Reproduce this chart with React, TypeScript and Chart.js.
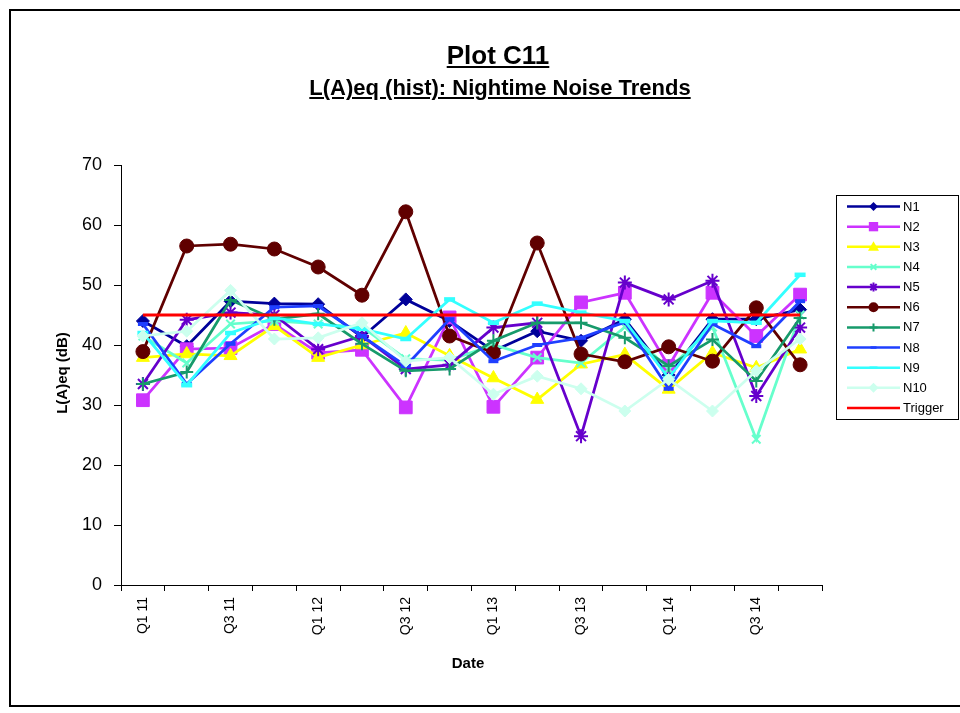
import React, { useEffect, useRef } from 'react';
import { Chart, registerables } from 'chart.js';

Chart.register(...registerables);

const categories = ['Q1 11', 'Q2 11', 'Q3 11', 'Q4 11', 'Q1 12', 'Q2 12', 'Q3 12', 'Q4 12', 'Q1 13', 'Q2 13', 'Q3 13', 'Q4 13', 'Q1 14', 'Q2 14', 'Q3 14', 'Q4 14'];

const n1 = [44, 39.8, 47.3, 46.9, 46.8, 41.3, 47.6, 44, 39, 42.3, 40.7, 44.3, 35, 44.3, 44.3, 45.9];
const n2 = [30.8, 39.3, 39.5, 43.5, 38.7, 39.2, 29.6, 44.6, 29.7, 37.9, 47.1, 48.7, 36.5, 48.7, 41.5, 48.4];
const n3 = [37.9, 38.5, 38.2, 43.2, 37.9, 40, 42, 38.2, 34.5, 30.9, 36.8, 38.4, 32.6, 38.7, 36.2, 39.3];
const n4 = [41.5, 37, 43.5, 44, 43.5, 43, 37.7, 37.5, 40, 37.9, 37, 43, 36, 43, 24.3, 45];
const n5 = [33.5, 44.2, 45.4, 45, 39.3, 41.5, 36, 36.7, 42.9, 43.7, 24.8, 50.4, 47.6, 50.7, 31.5, 42.9];
const n6 = [38.9, 56.5, 56.8, 56, 53, 48.3, 62.2, 41.5, 38.7, 57, 38.5, 37.2, 39.7, 37.3, 46.2, 36.7];
const n7 = [33.5, 35.5, 47.5, 44.3, 45.2, 40.2, 35.7, 36, 40.7, 43.7, 43.7, 41.2, 36.5, 40.9, 34, 44.5];
const n8 = [43.5, 33.5, 40.2, 46.3, 46.5, 41.5, 36.5, 44.3, 37.3, 40, 41.2, 43.8, 32.7, 43.5, 39.8, 47.3];
const n9 = [42, 33.3, 42, 44.5, 43.5, 42.7, 41, 47.6, 43.7, 46.9, 45.4, 44, 34.5, 44, 43.7, 51.7];
const n10 = [41.5, 42.3, 49.1, 41, 41.2, 43.7, 37.3, 37.9, 31.8, 34.8, 32.7, 29, 34.3, 29, 35.7, 41];
const triggerLevel = 45;
const trigger = categories.map(() => triggerLevel);

const yMin = 0;
const yMax = 70;
const yStep = 10;

type Series = {
  label: string;
  data: number[];
  color: string;
  style: string | false;
  r: number;
  bw: number;
  lr: number;
};

const series: Series[] = [
  { label: 'N1', data: n1, color: '#000099', style: 'rectRot', r: 6.5, bw: 1, lr: 4.5 },
  { label: 'N2', data: n2, color: '#CC33FF', style: 'rect', r: 9, bw: 1, lr: 6 },
  { label: 'N3', data: n3, color: '#FFFF00', style: 'triangle', r: 7.5, bw: 1, lr: 5.5 },
  { label: 'N4', data: n4, color: '#66FFCC', style: 'crossRot', r: 6, bw: 2, lr: 4 },
  { label: 'N5', data: n5, color: '#6600CC', style: 'star', r: 7, bw: 2, lr: 4.5 },
  { label: 'N6', data: n6, color: '#600000', style: 'circle', r: 7, bw: 1, lr: 5 },
  { label: 'N7', data: n7, color: '#179A6B', style: 'cross', r: 6.5, bw: 2, lr: 4 },
  { label: 'N8', data: n8, color: '#1F3FFF', style: 'line', r: 5, bw: 4, lr: 3 },
  { label: 'N9', data: n9, color: '#33FFFF', style: 'line', r: 5.5, bw: 4.5, lr: 4 },
  { label: 'N10', data: n10, color: '#CCFFEE', style: 'rectRot', r: 6, bw: 1, lr: 5 },
  { label: 'Trigger', data: trigger, color: '#FF0000', style: false, r: 0, bw: 0, lr: 0 },
];

function drawMarker(ctx: CanvasRenderingContext2D, style: string, x: number, y: number, r: number, color: string, bw: number) {
  ctx.save();
  ctx.fillStyle = color;
  ctx.strokeStyle = color;
  ctx.lineWidth = bw;
  ctx.beginPath();
  switch (style) {
    case 'circle':
      ctx.arc(x, y, r, 0, Math.PI * 2);
      ctx.fill();
      break;
    case 'rect': {
      const s = r * Math.SQRT1_2 * 1.1;
      ctx.rect(x - s, y - s, 2 * s, 2 * s);
      ctx.fill();
      break;
    }
    case 'rectRot':
      ctx.moveTo(x - r, y);
      ctx.lineTo(x, y - r);
      ctx.lineTo(x + r, y);
      ctx.lineTo(x, y + r);
      ctx.closePath();
      ctx.fill();
      break;
    case 'triangle':
      ctx.moveTo(x, y - r);
      ctx.lineTo(x + r, y + r * 0.7);
      ctx.lineTo(x - r, y + r * 0.7);
      ctx.closePath();
      ctx.fill();
      break;
    case 'cross':
      ctx.moveTo(x - r, y); ctx.lineTo(x + r, y);
      ctx.moveTo(x, y - r); ctx.lineTo(x, y + r);
      ctx.stroke();
      break;
    case 'crossRot': {
      const d = r * Math.SQRT1_2;
      ctx.moveTo(x - d, y - d); ctx.lineTo(x + d, y + d);
      ctx.moveTo(x + d, y - d); ctx.lineTo(x - d, y + d);
      ctx.stroke();
      break;
    }
    case 'star': {
      const d = r * Math.SQRT1_2;
      ctx.moveTo(x - r, y); ctx.lineTo(x + r, y);
      ctx.moveTo(x, y - r); ctx.lineTo(x, y + r);
      ctx.moveTo(x - d, y - d); ctx.lineTo(x + d, y + d);
      ctx.moveTo(x + d, y - d); ctx.lineTo(x - d, y + d);
      ctx.stroke();
      break;
    }
    case 'line':
      ctx.moveTo(x - r, y); ctx.lineTo(x + r, y);
      ctx.stroke();
      break;
  }
  ctx.restore();
}

const legendPlugin = {
  id: 'customLegend',
  afterDraw(chart: any) {
    const ctx: CanvasRenderingContext2D = chart.ctx;
    ctx.save();
    ctx.fillStyle = '#ffffff';
    ctx.fillRect(836.5, 195.5, 122, 224);
    ctx.strokeStyle = '#000';
    ctx.lineWidth = 1;
    ctx.strokeRect(836.5, 195.5, 122, 224);
    series.forEach((s, i) => {
      const y = 206.5 + i * 20.15;
      ctx.strokeStyle = s.color;
      ctx.lineWidth = 2.5;
      ctx.beginPath();
      ctx.moveTo(847, y);
      ctx.lineTo(900, y);
      ctx.stroke();
      if (s.style) drawMarker(ctx, s.style, 873.5, y, s.lr, s.color, Math.min(s.bw, 2.5));
      ctx.fillStyle = '#000';
      ctx.font = '13px "Liberation Sans", Arial, sans-serif';
      ctx.textBaseline = 'middle';
      ctx.textAlign = 'left';
      ctx.fillText(s.label, 903, y + 0.5);
    });
    ctx.restore();
  },
};

export default function App() {
  const canvasRef = useRef<HTMLCanvasElement | null>(null);

  useEffect(() => {
    if (!canvasRef.current) return;
    const n = series.length;
    const chart = new Chart(canvasRef.current, {
      type: 'line',
      data: {
        labels: categories,
        datasets: series.map((s, i) => ({
          label: s.label,
          data: s.data,
          borderColor: s.color,
          backgroundColor: s.color,
          borderWidth: s.style ? 2.75 : 3,
          pointStyle: s.style || false,
          pointRadius: s.style ? s.r : 0,
          pointHoverRadius: s.style ? s.r : 0,
          pointBorderWidth: s.bw,
          pointBackgroundColor: s.color,
          pointBorderColor: s.color,
          fill: false,
          tension: 0,
          order: n - i,
        })),
      },
      options: {
        responsive: false,
        animation: false,
        devicePixelRatio: 1,
        layout: { padding: { left: 0, top: 165, right: 138, bottom: 0 } },
        plugins: {
          legend: { display: false },
          title: { display: false },
          tooltip: { enabled: false },
        },
        scales: {
          x: {
            type: 'category',
            offset: true,
            grid: { offset: true, drawOnChartArea: false, drawTicks: true, tickLength: 6, color: '#000', tickColor: '#000' },
            border: { display: true, color: '#000', width: 1 },
            ticks: {
              autoSkip: false,
              minRotation: 90,
              maxRotation: 90,
              padding: 6,
              color: '#000',
              font: { family: '"Liberation Sans", Arial, sans-serif', size: 14 },
              callback: (_v: any, idx: number) => (idx % 2 === 0 ? categories[idx] : ''),
            },
            afterFit: (scale: any) => { scale.height = 128; },
          },
          y: {
            min: yMin,
            max: yMax,
            grid: { drawOnChartArea: false, drawTicks: true, tickLength: 7, color: '#000', tickColor: '#000' },
            border: { display: true, color: '#000', width: 1 },
            ticks: {
              stepSize: yStep,
              padding: 12,
              color: '#000',
              font: { family: '"Liberation Sans", Arial, sans-serif', size: 18 },
            },
            afterFit: (scale: any) => { scale.width = 121; },
          },
        },
      },
      plugins: [legendPlugin],
    } as any);
    return () => chart.destroy();
  }, []);

  const font = '"Liberation Sans", Arial, Helvetica, sans-serif';

  return (
    <div style={{ position: 'fixed', left: 0, top: 0, width: 960, height: 713, background: '#fff', overflow: 'hidden' }}>
      <div style={{ position: 'absolute', left: 9, top: 9, width: 960, height: 698, border: '2px solid #000', boxSizing: 'border-box' }} />
      <canvas ref={canvasRef} width={960} height={713} style={{ position: 'absolute', left: 0, top: 0 }} />
      <div style={{ position: 'absolute', left: 0, width: 996, top: 40, textAlign: 'center', fontFamily: font, fontWeight: 'bold', fontSize: 26, lineHeight: '30px', textDecoration: 'underline' }}>
        Plot C11
      </div>
      <div style={{ position: 'absolute', left: 0, width: 1000, top: 74, textAlign: 'center', fontFamily: font, fontWeight: 'bold', fontSize: 22, lineHeight: '28px', textDecoration: 'underline' }}>
        L(A)eq (hist): Nightime Noise Trends
      </div>
      <div style={{ position: 'absolute', left: 62, top: 373, width: 0, height: 0 }}>
        <div style={{ position: 'absolute', left: -100, top: -10, width: 200, height: 20, lineHeight: '20px', textAlign: 'center', transform: 'rotate(-90deg)', fontFamily: font, fontWeight: 'bold', fontSize: 15, whiteSpace: 'nowrap' }}>
          L(A)eq (dB)
        </div>
      </div>
      <div style={{ position: 'absolute', left: 368, width: 200, top: 653, lineHeight: '20px', textAlign: 'center', fontFamily: font, fontWeight: 'bold', fontSize: 15 }}>
        Date
      </div>
    </div>
  );
}
